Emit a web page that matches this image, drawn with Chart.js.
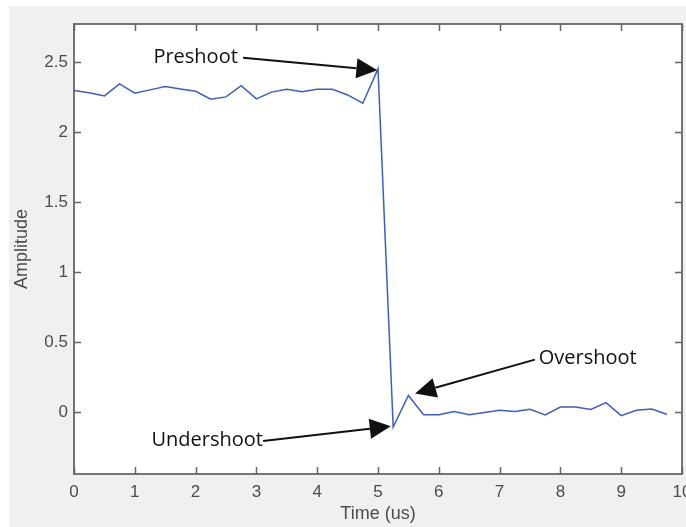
<!DOCTYPE html>
<html>
<head>
<meta charset="utf-8">
<script src="https://cdn.jsdelivr.net/npm/chart.js@4.4.0/dist/chart.umd.min.js"></script>
<style>
  html, body { margin: 0; padding: 0; background: #fff; }
  #wrap { width: 686px; height: 527px; }
</style>
</head>
<body>
<div id="wrap"><canvas id="grafico" width="686" height="527"></canvas></div>
<script>
// time axis (us) and sampled amplitude
const tiempos = [0, 0.25, 0.5, 0.75, 1, 1.25, 1.5, 1.75, 2, 2.25,
                 2.5, 2.75, 3, 3.25, 3.5, 3.75, 4, 4.25, 4.5, 4.75,
                 5, 5.25, 5.5, 5.75, 6, 6.25, 6.5, 6.75, 7, 7.25,
                 7.5, 7.75, 8, 8.25, 8.5, 8.75, 9, 9.25, 9.5, 9.75];
const amplitud = [2.295, 2.28, 2.257, 2.343, 2.276, 2.30, 2.324, 2.307, 2.29, 2.233,
                  2.25, 2.33, 2.236, 2.284, 2.305, 2.286, 2.305, 2.305, 2.264, 2.205,
                  2.45, -0.105, 0.12, -0.017, -0.017, 0.005, -0.017, -0.002, 0.014, 0.005,
                  0.021, -0.018, 0.038, 0.038, 0.021, 0.069, -0.024, 0.014, 0.024, -0.014];

const xTicks = [0, 1, 2, 3, 4, 5, 6, 7, 8, 9, 10];
const yTicks = [0, 0.5, 1, 1.5, 2, 2.5];

// annotations: label, text position, arrow start, arrow tip (data units)
const notas = [
  { text: 'Preshoot',   tx: 2.0,  ty: 2.536, x0: 2.78, y0: 2.53,  x1: 4.99, y1: 2.44 },
  { text: 'Undershoot', tx: 2.19, ty: -0.2,  x0: 3.11, y0: -0.205, x1: 5.21, y1: -0.1 },
  { text: 'Overshoot',  tx: 8.45, ty: 0.386, x0: 7.58, y0: 0.376, x1: 5.61, y1: 0.134 }
];

const marco = {
  id: 'marco',
  beforeDraw(chart) {
    const { ctx, chartArea: a } = chart;
    ctx.save();
    ctx.fillStyle = '#fff';
    ctx.fillRect(0, 0, chart.width, chart.height);
    ctx.fillStyle = '#f0f0f0';
    ctx.fillRect(9, 6, chart.width - 9, chart.height - 6);
    ctx.fillStyle = '#fff';
    ctx.fillRect(a.left, a.top, a.right - a.left, a.bottom - a.top);
    ctx.restore();
  },
  afterDraw(chart) {
    const { ctx, chartArea: a, scales } = chart;
    const xs = scales.x, ys = scales.y;
    ctx.save();
    ctx.strokeStyle = '#666';
    ctx.lineWidth = 1.8;
    ctx.strokeRect(a.left, a.top, a.right - a.left, a.bottom - a.top);
    ctx.lineWidth = 1.5;
    ctx.beginPath();
    xTicks.forEach(v => {
      const px = Math.round(xs.getPixelForValue(v)) + 0.5;
      ctx.moveTo(px, a.bottom); ctx.lineTo(px, a.bottom - 7);
      ctx.moveTo(px, a.top); ctx.lineTo(px, a.top + 7);
    });
    yTicks.forEach(v => {
      const py = Math.round(ys.getPixelForValue(v)) + 0.5;
      ctx.moveTo(a.left, py); ctx.lineTo(a.left + 7, py);
      ctx.moveTo(a.right, py); ctx.lineTo(a.right - 7, py);
    });
    ctx.stroke();

    // annotations with arrows
    ctx.fillStyle = '#111';
    ctx.strokeStyle = '#111';
    ctx.font = '20px "Open Sans"';
    ctx.textAlign = 'center';
    ctx.textBaseline = 'middle';
    notas.forEach(n => {
      ctx.fillText(n.text, xs.getPixelForValue(n.tx), ys.getPixelForValue(n.ty));
      const x0 = xs.getPixelForValue(n.x0), y0 = ys.getPixelForValue(n.y0);
      const x1 = xs.getPixelForValue(n.x1), y1 = ys.getPixelForValue(n.y1);
      const ang = Math.atan2(y1 - y0, x1 - x0);
      const len = 21, half = 10;
      const bx = x1 - len * Math.cos(ang), by = y1 - len * Math.sin(ang);
      ctx.lineWidth = 2;
      ctx.beginPath();
      ctx.moveTo(x0, y0); ctx.lineTo(bx, by);
      ctx.stroke();
      ctx.beginPath();
      ctx.moveTo(x1, y1);
      ctx.lineTo(bx + half * Math.sin(ang), by - half * Math.cos(ang));
      ctx.lineTo(bx - half * Math.sin(ang), by + half * Math.cos(ang));
      ctx.closePath();
      ctx.fill();
    });
    ctx.restore();
  }
};

const ctx = document.getElementById('grafico').getContext('2d');
const chart = new Chart(ctx, {
  type: 'line',
  data: {
    datasets: [{
      data: tiempos.map((t, i) => ({ x: t, y: amplitud[i] })),
      borderColor: '#3c5ec4',
      borderWidth: 1.5,
      pointRadius: 0,
      tension: 0,
      fill: false
    }]
  },
  options: {
    responsive: false,
    animation: false,
    layout: { padding: { left: 0, top: 24, right: 4, bottom: 0 } },
    plugins: { legend: { display: false }, tooltip: { enabled: false } },
    scales: {
      x: {
        type: 'linear',
        min: 0, max: 10,
        afterBuildTicks: s => { s.ticks = xTicks.map(v => ({ value: v })); },
        afterFit: s => { s.height = 53; s.paddingLeft = 0; s.paddingRight = 0; },
        grid: { display: false, drawTicks: false },
        border: { display: false },
        ticks: {
          padding: 8,
          maxRotation: 0,
          color: '#4d4d4d',
          font: { family: '"Liberation Sans", Arial', size: 17 },
          callback: v => String(v)
        },
        title: {
          display: true,
          text: 'Time (us)',
          color: '#4d4d4d',
          font: { family: '"Liberation Sans", Arial', size: 18 },
          padding: { top: 0, bottom: 2 }
        }
      },
      y: {
        min: -0.44, max: 2.77,
        afterBuildTicks: s => { s.ticks = yTicks.map(v => ({ value: v })); },
        afterFit: s => { s.width = 74; s.paddingTop = 0; s.paddingBottom = 0; },
        grid: { display: false, drawTicks: false },
        border: { display: false },
        ticks: {
          padding: 6,
          color: '#4d4d4d',
          font: { family: '"Liberation Sans", Arial', size: 17 },
          callback: v => String(v)
        },
        title: {
          display: true,
          text: 'Amplitude',
          color: '#4d4d4d',
          font: { family: '"Liberation Sans", Arial', size: 18 },
          padding: { top: 11, bottom: 0 }
        }
      }
    }
  },
  plugins: [marco]
});
</script>
</body>
</html>
